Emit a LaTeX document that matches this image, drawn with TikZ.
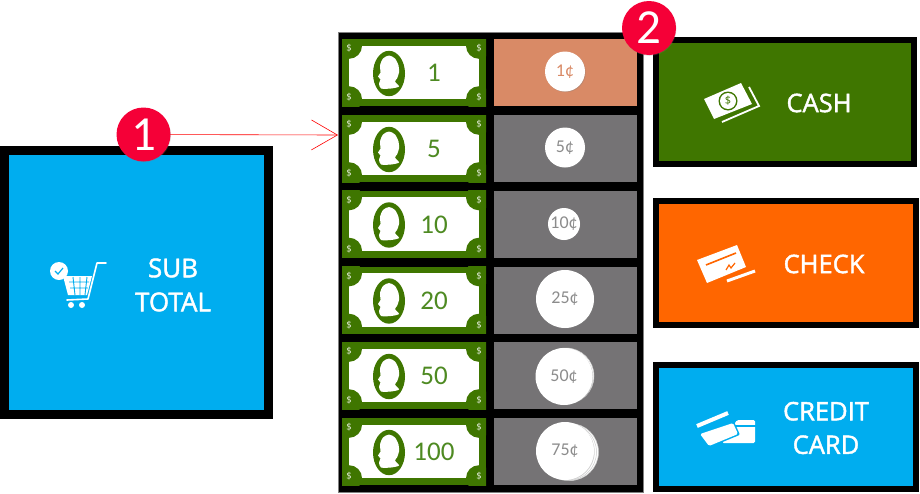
\documentclass[tikz,border=0pt]{standalone}
\usepackage{fontspec}
\setmainfont{Open Sans}
\newfontfamily\labelfont[FakeBold=1.6]{Open Sans}
\newfontfamily\digitfont{Carlito}
\usetikzlibrary{arrows.meta,shadows}
\definecolor{billgreen}{HTML}{3F7600}
\definecolor{amountgreen}{HTML}{4E8A22}
\definecolor{skyblue}{HTML}{00ADEF}
\definecolor{checkorange}{HTML}{FF6600}
\definecolor{badgered}{HTML}{F50037}
\definecolor{cellgrey}{HTML}{757375}
\definecolor{cellsalmon}{HTML}{D98A66}
\definecolor{coingrey}{HTML}{8C8C8C}
\tikzset{
    paybox/.style={rectangle, draw=black, line width=6pt, outer sep=0pt, inner sep=0pt},
    paytext/.style={text=white, align=center, inner sep=0pt, font=\labelfont\fontsize{25.5}{33.5}\selectfont},
    billbox/.style={rectangle, fill=billgreen, minimum width=144pt, minimum height=67pt, inner sep=0pt},
    cellbox/.style={rectangle, fill=cellgrey, minimum width=143pt, minimum height=67pt, inner sep=0pt},
    amount/.style={text=amountgreen, inner sep=0pt, font=\digitfont\fontsize{27}{27}\selectfont},
    coin/.style={circle, fill=white, inner sep=0pt, text=coingrey, font=\digitfont\fontsize{18}{18}\selectfont, drop shadow={shadow xshift=.7pt, shadow yshift=-.7pt, opacity=.35}},
    backcoin/.style={circle, fill=white, draw=black!20, line width=.5pt, inner sep=0pt},
    badge/.style={circle, fill=badgered, minimum size=54pt, inner sep=0pt, text=white, font=\digitfont\fontsize{49}{49}\selectfont, drop shadow={shadow xshift=.5pt, shadow yshift=-.8pt, opacity=.25}},
    billsign/.style={text=white!85!billgreen, font=\fontsize{9.5}{10}\selectfont, inner sep=0pt},
    billart/.pic={
        \begin{scope}
            \clip (-72,-33.5) rectangle (72,33.5);
            \fill [white] (-65,-26.7) rectangle (65,26.7);
            \fill [billgreen] (-65,-26.7) circle [radius=13pt];
            \fill [billgreen] (65,-26.7) circle [radius=13pt];
            \fill [billgreen] (-65,26.7) circle [radius=13pt];
            \fill [billgreen] (65,26.7) circle [radius=13pt];
        \end{scope}
        \node [billsign] at (-65,-24) {\$};
        \node [billsign] at (65,-24) {\$};
        \node [billsign] at (-65,25) {\$};
        \node [billsign] at (65,25) {\$};
        \fill [billgreen] (-25,1) ellipse [x radius=16pt, y radius=22.7pt];
        \fill [white] plot [smooth cycle, tension=.45] coordinates {(-25,-17) (-19,-14) (-15.5,-7) (-15,0) (-17,6) (-19,9) (-15,14) (-23,16) (-33,16) (-35,11) (-33.5,7) (-36,4) (-33.5,0) (-34,-7) (-31,-14)};
    }
}
\begin{document}
\begin{tikzpicture}[x=1pt, y=-1pt]
    \useasboundingbox (0,0) rectangle (920,493);
    % left box
    \node [paybox, fill=skyblue, line width=9pt, minimum width=264pt, minimum height=264pt] (subtotal) at (136.5,282.5) {};
    \node [paytext, font=\labelfont\fontsize{26}{34}\selectfont] (subtotaltext) at (173,285) {SUB\\TOTAL};
    % cart
    \draw [white, line width=1.6pt, line cap=round, line join=round] (106,263) -- (97,263) -- (88,299) -- (67,300);
    \fill [white] (63,276) -- (92,276) -- (87,295) -- (68,295) -- cycle;
    \draw [skyblue, line width=.9pt] (69,282) -- (89,282) (70,288) -- (88,288) (73,277) -- (75,295) (80,277) -- (80,295) (87,277) -- (85,295);
    \fill [white] (71,305) circle [radius=3pt] (82,305) circle [radius=3pt];
    \fill [white] (59,271) circle [radius=9pt];
    \draw [skyblue, line width=1.2pt] (55,271) -- (58,274) -- (63,268);
    % notes and coins
    \node [rectangle, fill=black, draw=black!50, line width=.5pt, minimum width=305pt, minimum height=460pt, outer sep=0pt] (panel) at (490.5,262) {};
    \node [billbox] (bill1) at (414,72.5) {};
    \node [billbox] (bill2) at (414,148.5) {};
    \node [billbox] (bill3) at (414,224) {};
    \node [billbox] (bill4) at (414,300) {};
    \node [billbox] (bill5) at (414,375.5) {};
    \node [billbox] (bill6) at (414,451.5) {};
    \pic at (bill1) {billart};
    \pic at (bill2) {billart};
    \pic at (bill3) {billart};
    \pic at (bill4) {billart};
    \pic at (bill5) {billart};
    \pic at (bill6) {billart};
    \node [amount] (amount1) at (434,73) {1};
    \node [amount] (amount2) at (434,149) {5};
    \node [amount] (amount3) at (434,224.5) {10};
    \node [amount] (amount4) at (434,300.5) {20};
    \node [amount] (amount5) at (434,376) {50};
    \node [amount] (amount6) at (434,452) {100};
    \node [cellbox, fill=cellsalmon] (cell1) at (565.5,72.5) {};
    \node [cellbox] (cell2) at (565.5,148.5) {};
    \node [cellbox] (cell3) at (565.5,224) {};
    \node [cellbox] (cell4) at (565.5,300) {};
    \node [cellbox] (cell5) at (565.5,375.5) {};
    \node [cellbox] (cell6) at (565.5,451.5) {};
    \node [coin, text=cellsalmon, minimum size=40pt] (coin1) at (565,71.5) {1¢};
    \node [coin, minimum size=40pt] (coin2) at (565,147.5) {5¢};
    \node [coin, minimum size=32pt] (coin3) at (564,224) {10¢};
    \node [coin, minimum size=58pt] (coin4) at (565,299) {25¢};
    \node [backcoin, minimum size=56pt] (coin5b) at (566,376) {};
    \node [coin, minimum size=57pt] (coin5) at (564,376.5) {50¢};
    \node [backcoin, minimum size=57pt] (coin6c) at (570,452) {};
    \node [backcoin, minimum size=57pt] (coin6b) at (568,452) {};
    \node [coin, minimum size=58pt] (coin6) at (565,451) {75¢};
    % right boxes
    \node [paybox, fill=billgreen, minimum width=258pt, minimum height=124pt] (cash) at (785,102) {};
    \node [paytext] (cashtext) at (819,103) {CASH};
    \node [paybox, fill=checkorange, minimum width=260pt, minimum height=124pt] (check) at (786,263) {};
    \node [paytext] (checktext) at (824,264) {CHECK};
    \node [paybox, fill=skyblue, minimum width=260pt, minimum height=124pt] (credit) at (786,427) {};
    \node [paytext] (credittext) at (826,428) {CREDIT\\CARD};
    % cash icon
    \fill [white] (704,99) -- (741,83) -- (752,104) -- (714,119) -- cycle;
    \fill [billgreen] (728,101) circle [radius=9.5pt];
    \fill [white] (728,101) circle [radius=8pt];
    \node [text=billgreen, inner sep=0pt, font=\fontsize{11}{11}\selectfont] (cashsign) at (728,101) {\$};
    \draw [white, line width=1.8pt] (749,87) -- (759,106) -- (722,122);
    % check icon
    \fill [white] (697,260) -- (737,245) -- (746,267) -- (707,283) -- cycle;
    \draw [checkorange, line width=1.6pt] (706,265) -- (736,253);
    \draw [checkorange, line width=1.2pt] (726,270) -- (729,265) -- (731,268) -- (735,263);
    \draw [white, line width=3pt] (727,281) -- (755,271);
    % card icon
    \fill [white, rounded corners=1.5pt] (737,420) -- (755,420) -- (755,443) -- (722,443) -- cycle;
    \draw [skyblue, line width=1.8pt] (733,426) -- (756,426);
    \draw [skyblue, line width=3pt, line join=round] (700,434) -- (733,423) -- (738,434) -- (709,446) -- cycle;
    \fill [white, rounded corners=1.5pt] (700,434) -- (733,423) -- (738,434) -- (709,446) -- cycle;
    \draw [white, line width=4pt] (697,426) -- (728,413);
    % badges
    \coordinate (arrowtip) at (338,135);
    \draw [red, line width=.6pt, -{Straight Barb[length=26pt, width=30pt]}] (143.5,134.5) -- (arrowtip);
    \node [badge] (badge1) at (143.5,134.5) {1};
    \node [badge] (badge2) at (649,28) {2};
\end{tikzpicture}
\end{document}
